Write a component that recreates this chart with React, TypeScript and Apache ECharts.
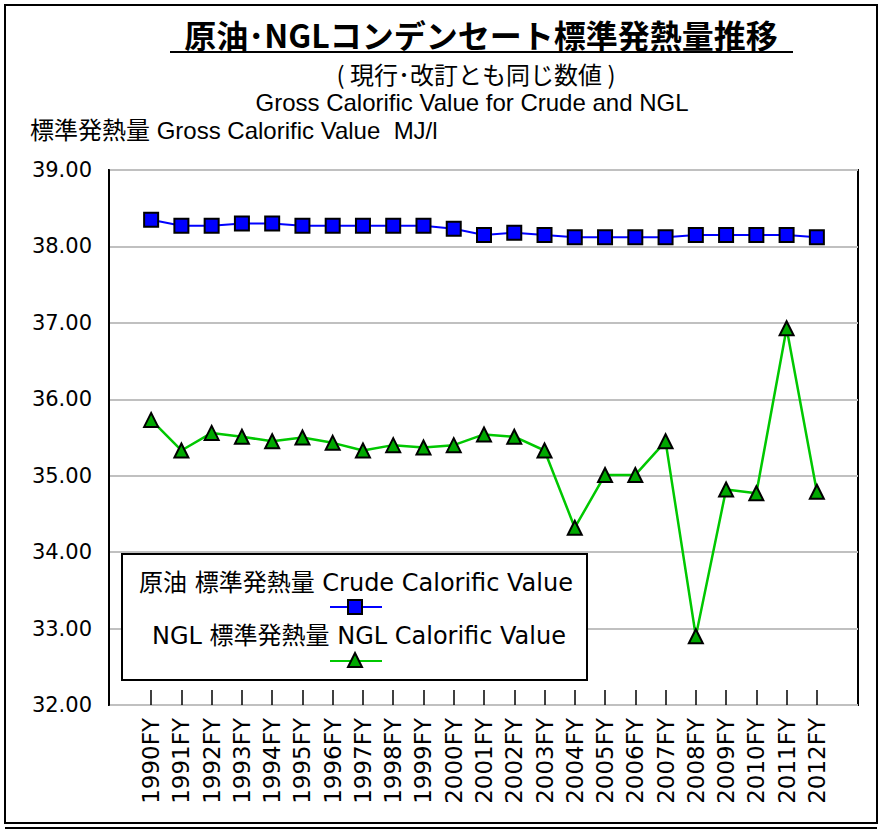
import React, { useEffect, useRef } from "react";
import * as echarts from "echarts";

const categories = [
  "1990FY", "1991FY", "1992FY", "1993FY", "1994FY", "1995FY", "1996FY", "1997FY",
  "1998FY", "1999FY", "2000FY", "2001FY", "2002FY", "2003FY", "2004FY", "2005FY",
  "2006FY", "2007FY", "2008FY", "2009FY", "2010FY", "2011FY", "2012FY",
];
const crudeValues = [
  38.35, 38.27, 38.27, 38.3, 38.3, 38.27, 38.27, 38.27, 38.27, 38.27, 38.23, 38.15,
  38.18, 38.15, 38.12, 38.12, 38.12, 38.12, 38.15, 38.15, 38.15, 38.15, 38.12,
];
const nglValues = [
  35.73, 35.33, 35.56, 35.51, 35.45, 35.5, 35.43, 35.33, 35.4, 35.37, 35.4, 35.54,
  35.51, 35.33, 34.32, 35.01, 35.01, 35.45, 32.9, 34.82, 34.77, 36.93, 34.79,
];
const yMin = 32;
const yMax = 39;
const yStep = 1;

const crudeName = "原油 標準発熱量 Crude Calorific Value";
const nglName = "NGL 標準発熱量 NGL Calorific Value";
const titleText = "原油･NGLコンデンセート標準発熱量推移";
const subtitleText = "( 現行･改訂とも同じ数値 )";
const englishTitle = "Gross Calorific Value for Crude and NGL";
const yAxisTitle = "標準発熱量 Gross Calorific Value  MJ/l";

const FONT = "'Liberation Sans', 'Noto Sans CJK JP', sans-serif";
const CJK = "'Noto Sans CJK JP', sans-serif";
const BLUE = "#0000ff";
const GREEN_LINE = "#00c800";
const GREEN_FILL = "#00a800";

export default function App() {
  const ref = useRef<HTMLDivElement>(null);
  useEffect(() => {
    if (!ref.current) return;
    const chart = echarts.init(ref.current, undefined, { renderer: "svg" });
    const plotTop = 170;
    const plotHeight = 535;
    const Z = 100;
    const option: any = {
      animation: false,
      backgroundColor: "#ffffff",
      textStyle: { fontFamily: FONT },
      grid: [
        {
          left: 109, right: 24, top: plotTop, height: plotHeight,
          show: true, borderColor: "#000", borderWidth: 2, backgroundColor: "transparent",
          containLabel: false,
        },
        {
          left: 136, width: 696, top: plotTop, height: plotHeight, containLabel: false,
        },
      ],
      xAxis: [
        { type: "value", gridIndex: 0, show: false, min: 0, max: 1 },
        {
          type: "category", gridIndex: 1, data: categories, boundaryGap: true,
          axisLine: { show: false },
          axisTick: { show: true, alignWithLabel: true, inside: true, length: 15, lineStyle: { color: "#000", width: 1.5 } },
          axisLabel: {
            rotate: 90, interval: 0, margin: 13, fontSize: 23, color: "#000",
            fontFamily: "'DejaVu Sans', sans-serif",
          },
          splitLine: { show: false },
        },
      ],
      yAxis: [
        {
          type: "value", gridIndex: 0, min: yMin, max: yMax, interval: yStep,
          axisLine: { show: true, lineStyle: { color: "#000", width: 2 } },
          axisTick: { show: false },
          axisLabel: {
            formatter: (v: number) => v.toFixed(2), fontSize: 21, color: "#000", margin: 17,
            fontFamily: "'DejaVu Sans', sans-serif",
          },
          splitLine: { show: true, lineStyle: { color: "#c0c0c0", width: 2 } },
        },
        { type: "value", gridIndex: 1, min: yMin, max: yMax, show: false, splitLine: { show: false } },
      ],
      series: [
        {
          name: crudeName, type: "line", xAxisIndex: 1, yAxisIndex: 1, data: crudeValues,
          symbol: "rect", symbolSize: 14, showAllSymbol: true,
          lineStyle: { color: BLUE, width: 2 },
          itemStyle: { color: BLUE, borderColor: "#000", borderWidth: 2 },
          z: 3,
        },
        {
          name: nglName, type: "line", xAxisIndex: 1, yAxisIndex: 1, data: nglValues,
          symbol: "triangle", symbolSize: 14, showAllSymbol: true,
          lineStyle: { color: GREEN_LINE, width: 2.5 },
          itemStyle: { color: GREEN_FILL, borderColor: "#000", borderWidth: 2 },
          z: 3,
        },
      ],
      graphic: [
        { type: "rect", shape: { x: 5, y: 5, width: 872, height: 818 }, style: { fill: "none", stroke: "#000", lineWidth: 2 }, z: 1 },
        { type: "line", shape: { x1: 5, y1: 828, x2: 877, y2: 828 }, style: { stroke: "#000", lineWidth: 2 }, z: 1 },
        {
          type: "text", x: 481, y: 34,
          style: { text: titleText, font: `bold 32px ${CJK}`, fill: "#000", align: "center", verticalAlign: "middle", lineHeight: 32 },
        },
        { type: "line", shape: { x1: 170, y1: 52, x2: 793, y2: 52 }, style: { stroke: "#000", lineWidth: 2 } },
        {
          type: "text", x: 476, y: 73,
          style: { text: subtitleText, font: `24px ${CJK}`, fill: "#000", align: "center", verticalAlign: "middle", lineHeight: 24 },
        },
        {
          type: "text", x: 472, y: 102,
          style: { text: englishTitle, font: `24px ${FONT}`, fill: "#000", align: "center", verticalAlign: "middle", lineHeight: 24 },
        },
        {
          type: "text", x: 30, y: 130,
          style: { text: yAxisTitle, font: `24px ${FONT}`, fill: "#000", align: "left", verticalAlign: "middle", lineHeight: 24 },
        },
        { type: "rect", z: Z, shape: { x: 122, y: 554, width: 465, height: 126 }, style: { fill: "#fff", stroke: "#000", lineWidth: 2 } },
        {
          type: "text", z: Z, x: 356, y: 583,
          style: { text: crudeName, font: `24px 'DejaVu Sans', ${CJK}`, fill: "#000", align: "center", verticalAlign: "middle" },
        },
        { type: "line", z: Z, shape: { x1: 330, y1: 607, x2: 382, y2: 607 }, style: { stroke: BLUE, lineWidth: 2 } },
        { type: "rect", z: Z + 1, shape: { x: 348, y: 600, width: 14, height: 14 }, style: { fill: BLUE, stroke: "#000", lineWidth: 2 } },
        {
          type: "text", z: Z, x: 359, y: 636,
          style: { text: nglName, font: `24px 'DejaVu Sans', ${CJK}`, fill: "#000", align: "center", verticalAlign: "middle" },
        },
        { type: "line", z: Z, shape: { x1: 330, y1: 661, x2: 382, y2: 661 }, style: { stroke: GREEN_LINE, lineWidth: 2 } },
        {
          type: "polygon", z: Z + 1, shape: { points: [[355, 653], [362, 667], [348, 667]] },
          style: { fill: GREEN_FILL, stroke: "#000", lineWidth: 2 },
        },
      ],
    };
    chart.setOption(option);
    return () => chart.dispose();
  }, []);
  return (
    <div
      ref={ref}
      style={{ position: "fixed", left: 0, top: 0, width: 882, height: 830, background: "#fff" }}
    />
  );
}
